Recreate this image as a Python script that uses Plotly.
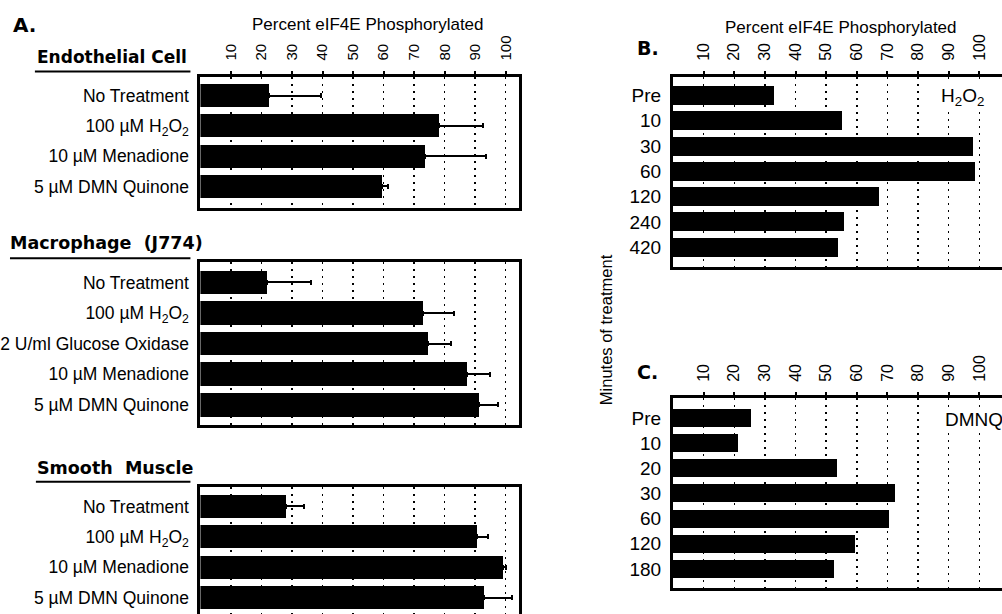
import plotly.graph_objects as go

# ---------------- data ----------------
pct_ticks = [10, 20, 30, 40, 50, 60, 70, 80, 90, 100]

endo_labels = ["No Treatment", "100 \u00b5M H<sub>2</sub>O<sub>2</sub>",
               "10 \u00b5M Menadione", "5 \u00b5M DMN Quinone"]
endo_values = [22.4, 78.1, 73.5, 59.6]
endo_errors = [17.2, 14.3, 19.9, 2.0]

macro_labels = ["No Treatment", "100 \u00b5M H<sub>2</sub>O<sub>2</sub>",
                "2 U/ml Glucose Oxidase", "10 \u00b5M Menadione", "5 \u00b5M DMN Quinone"]
macro_values = [21.7, 72.9, 74.7, 87.4, 91.1]
macro_errors = [14.5, 10.1, 7.5, 7.6, 6.5]

smooth_labels = ["No Treatment", "100 \u00b5M H<sub>2</sub>O<sub>2</sub>",
                 "10 \u00b5M Menadione", "5 \u00b5M DMN Quinone"]
smooth_values = [27.9, 90.7, 99.2, 92.9]
smooth_errors = [5.9, 3.5, 1.0, 9.2]

h2o2_minutes = ["Pre", "10", "30", "60", "120", "240", "420"]
h2o2_values = [33.0, 55.2, 97.9, 98.6, 67.4, 55.7, 53.9]

dmnq_minutes = ["Pre", "10", "20", "30", "60", "120", "180"]
dmnq_values = [25.6, 21.3, 53.4, 72.6, 70.4, 59.3, 52.5]

# ---------------- layout helpers ----------------
W, H = 1002, 614
FONT = "Liberation Sans, Arial, Helvetica, sans-serif"
BOLD = "DejaVu Sans, Liberation Sans, sans-serif"


def px(x):
    return x / W


def py(y):
    return 1 - y / H


fig = go.Figure()

panels = [
    dict(lab=endo_labels, val=endo_values, err=endo_errors, x0=198, x1=518, yt=76.5, yb=208.3,
         xmax=104.5, yr=[3.72, -0.63], bw=0.76, yfs=17.5, xfs=15, mx=True, my=True),
    dict(lab=macro_labels, val=macro_values, err=macro_errors, x0=198, x1=518, yt=261.7, yb=425,
         xmax=104.5, yr=[4.66, -0.68], bw=0.77, yfs=17.5, xfs=15, mx=True, my=True, notick=True),
    dict(lab=smooth_labels, val=smooth_values, err=smooth_errors, x0=198, x1=518, yt=486.7, yb=614,
         xmax=104.5, yr=[3.54, -0.65], bw=0.76, yfs=17.5, xfs=15, mx=False, my=True, notick=True),
    dict(lab=h2o2_minutes, val=h2o2_values, err=None, x0=672, x1=1002, yt=77, yb=266.5,
         xmax=107.4, yr=[6.76, -0.73], bw=0.75, yfs=19, xfs=16, mx=True, my=False),
    dict(lab=dmnq_minutes, val=dmnq_values, err=None, x0=672, x1=1002, yt=398, yb=588.3,
         xmax=107.4, yr=[6.77, -0.79], bw=0.72, yfs=19, xfs=16, mx=True, my=False),
]

layout_axes = {}
for i, p in enumerate(panels, start=1):
    sfx = "" if i == 1 else str(i)
    err = None
    if p["err"] is not None:
        err = dict(type="data", array=p["err"], arrayminus=[0] * len(p["err"]),
                   symmetric=False, color="black", thickness=2, width=2.5)
    fig.add_trace(go.Bar(
        x=p["val"], y=p["lab"], orientation="h", width=p["bw"],
        marker=dict(color="black", line=dict(width=0)),
        error_x=err, xaxis="x" + sfx, yaxis="y" + sfx, showlegend=False,
    ))
    labelled = not p.get("notick", False)
    layout_axes["xaxis" + sfx] = dict(
        domain=[px(p["x0"]), px(p["x1"])], range=[0, p["xmax"]], side="top",
        anchor="y" + sfx, tickvals=pct_ticks,
        showticklabels=labelled,
        tickangle=-90, tickfont=dict(family=FONT, size=p["xfs"], color="black"),
        ticks="outside" if labelled else "", ticklen=3, tickwidth=2, tickcolor="black",
        ticklabelstandoff=7,
        showgrid=True, gridcolor="black", griddash="2px,5px", gridwidth=1.5,
        showline=True, linecolor="black", linewidth=3, mirror=p["mx"],
        zeroline=False, fixedrange=True,
    )
    layout_axes["yaxis" + sfx] = dict(
        domain=[py(p["yb"]), py(p["yt"])], type="category", categoryorder="array",
        categoryarray=p["lab"], range=p["yr"], anchor="x" + sfx,
        tickfont=dict(family=FONT, size=p["yfs"], color="black"),
        ticks="", ticklabelstandoff=5, showgrid=False,
        showline=True, linecolor="black", linewidth=3, mirror=p["my"],
        zeroline=False, fixedrange=True,
    )

annotations = []


def add_text(text, x, y, size, family=FONT, xanchor="left", yanchor="middle", angle=0, bg=None):
    annotations.append(dict(
        text=text, x=px(x), y=py(y), xref="paper", yref="paper",
        xanchor=xanchor, yanchor=yanchor, showarrow=False, textangle=angle,
        font=dict(family=family, size=size, color="black"),
        bgcolor=bg, borderpad=1,
    ))


add_text("<b>A.</b>", 8, 25, 20, family=BOLD)
add_text("Percent eIF4E Phosphorylated", 366.5, 24, 17, xanchor="center")
add_text("<b>Endothelial Cell</b>", 32, 57, 17, family=BOLD)
add_text("<b>Macrophage\u00a0\u00a0(J774)</b>", 5, 243, 17.5, family=BOLD)
add_text("<b>Smooth\u00a0\u00a0Muscle</b>", 32, 468, 17.5, family=BOLD)

add_text("<b>B.</b>", 634, 48, 19, family=BOLD)
add_text("Percent eIF4E Phosphorylated", 840.5, 27.5, 17, xanchor="center")
add_text("H<sub>2</sub>O<sub>2</sub>", 939, 97, 19, bg="white")
add_text("Minutes of treatment", 605, 330, 16.5, xanchor="center", angle=-90)
add_text("<b>C.</b>", 634, 372, 19, family=BOLD)
add_text("DMNQ", 943, 419, 19, bg="white")

shapes = []
for (x0, x1, y) in [(32, 188, 71.5), (7, 188, 258.3), (33, 188, 481.7)]:
    shapes.append(dict(type="line", xref="paper", yref="paper",
                       x0=px(x0), x1=px(x1), y0=py(y), y1=py(y),
                       line=dict(color="black", width=2)))

fig.update_layout(
    width=W, height=H, margin=dict(l=0, r=0, t=0, b=0),
    paper_bgcolor="white", plot_bgcolor="white",
    annotations=annotations, shapes=shapes, showlegend=False,
    bargap=0, **layout_axes,
)

fig.write_html(
    "out.html",
    config={"displayModeBar": False, "staticPlot": True},
    post_script="document.body.style.margin='0px';document.body.style.overflow='hidden';",
)
